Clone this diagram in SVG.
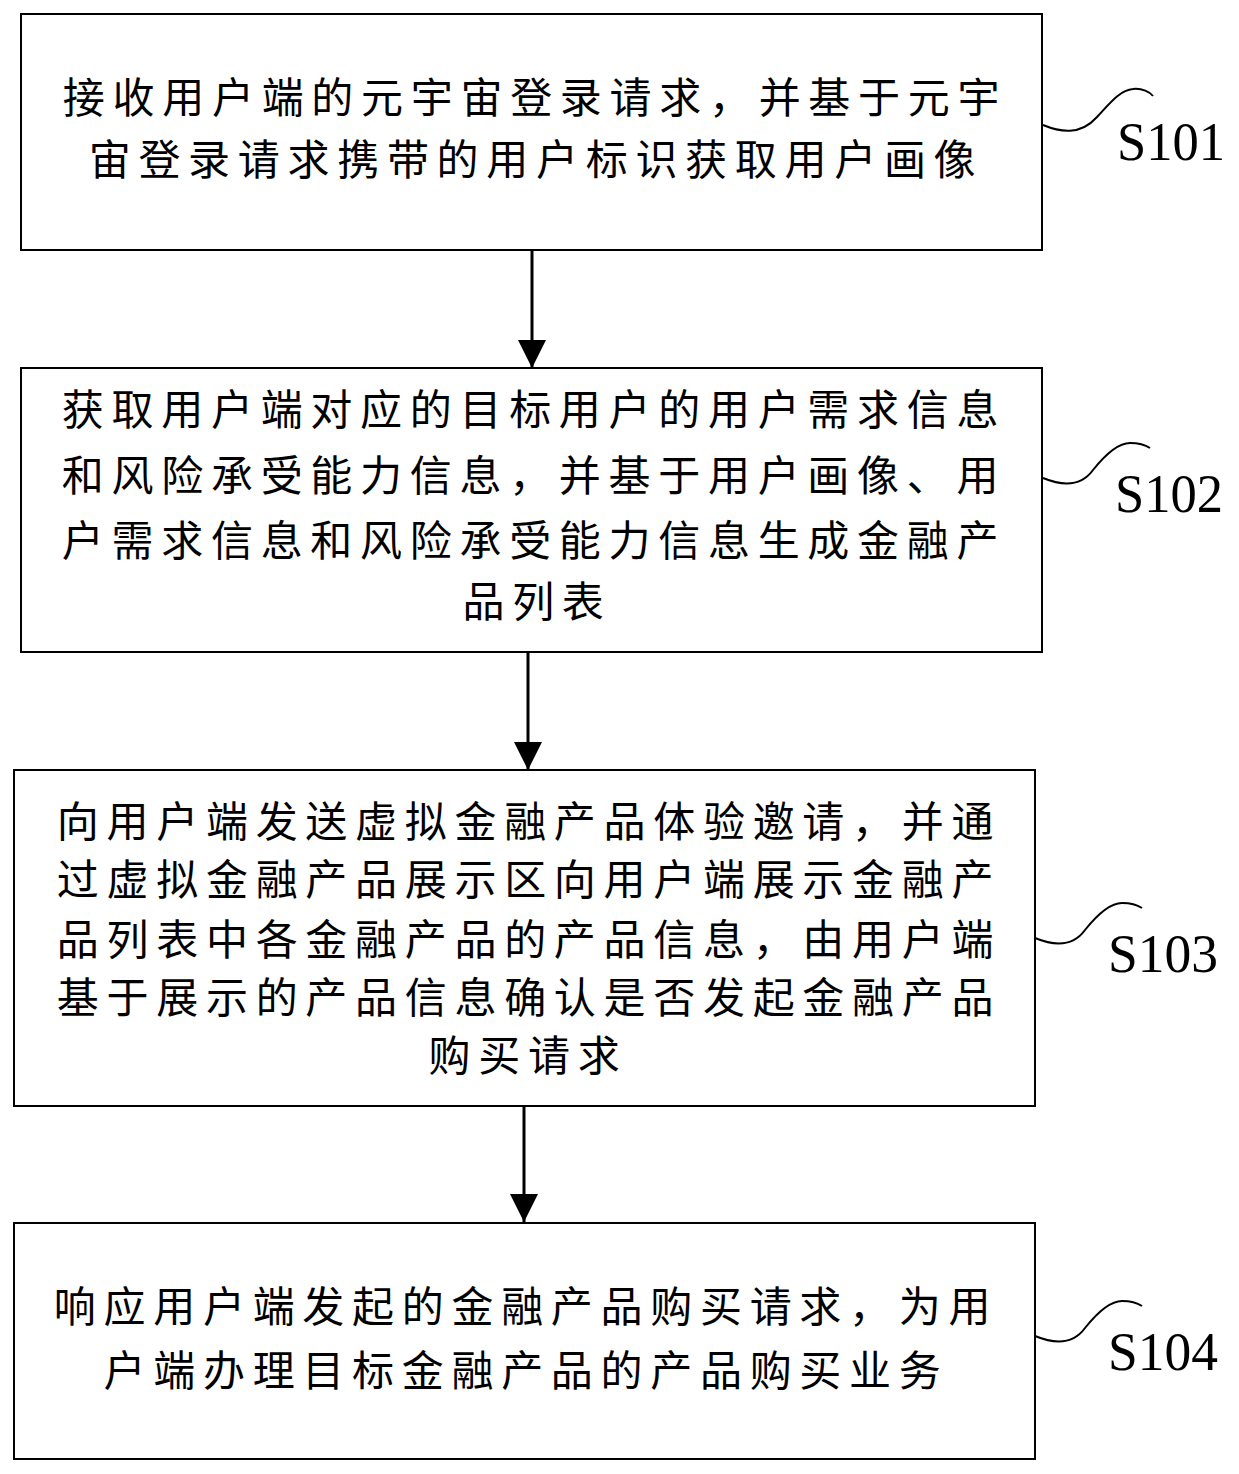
<svg xmlns="http://www.w3.org/2000/svg" width="1239" height="1474" viewBox="0 0 1239 1474">
<defs>
<style>
.box{fill:#fff;stroke:#000;stroke-width:2}
.t{font-family:"Noto Sans CJK SC","Noto Sans",sans-serif;font-size:42px;letter-spacing:7.7px;text-anchor:middle;fill:#000}
.lbl{font-family:"Liberation Serif","Times New Roman",serif;font-size:55px;fill:#000}
.sq{fill:none;stroke:#000;stroke-width:2}
.ln{stroke:#000;stroke-width:3}
</style>
<marker id="ah" markerWidth="28" markerHeight="28" viewBox="0 0 28 28" refX="14" refY="28" orient="auto" markerUnits="userSpaceOnUse">
<path d="M0,0 L28,0 L14,28 Z" fill="#000"/>
</marker>
</defs>
<rect width="1239" height="1474" fill="#fff"/>
<g id="connectors">
<line class="ln" x1="532" y1="250" x2="532" y2="368"/>
<path d="M518,340 L546,340 L532,368 Z" fill="#000"/>
<line class="ln" x1="528" y1="652" x2="528" y2="770"/>
<path d="M514,742 L542,742 L528,770 Z" fill="#000"/>
<line class="ln" x1="524" y1="1106" x2="524" y2="1222"/>
<path d="M510,1194 L538,1194 L524,1222 Z" fill="#000"/>
</g>
<g id="S101">
<rect class="box" x="21" y="14" width="1021" height="236"/>
<text class="t" x="535" y="113">接收用户端的元宇宙登录请求，并基于元宇</text>
<text class="t" x="536" y="175">宙登录请求携带的用户标识获取用户画像</text>
<path class="sq" d="M1043,125 C1060,132 1080,136 1097,117 C1110,103 1120,90 1133,89 C1142,88 1150,92 1153,96"/>
<text class="lbl" x="1117" y="160" textLength="108" lengthAdjust="spacingAndGlyphs">S101</text>
</g>
<g id="S102">
<rect class="box" x="21" y="368" width="1021" height="284"/>
<text class="t" x="534" y="425">获取用户端对应的目标用户的用户需求信息</text>
<text class="t" x="534" y="491">和风险承受能力信息，并基于用户画像、用</text>
<text class="t" x="534" y="556">户需求信息和风险承受能力信息生成金融产</text>
<text class="t" x="537" y="617">品列表</text>
<path class="sq" d="M1043,478 C1060,485 1080,488 1093,470 C1105,455 1118,443 1130,443 C1140,443 1147,446 1150,448"/>
<text class="lbl" x="1115" y="512" textLength="108" lengthAdjust="spacingAndGlyphs">S102</text>
</g>
<g id="S103">
<rect class="box" x="14" y="770" width="1021" height="336"/>
<text class="t" x="529" y="837">向用户端发送虚拟金融产品体验邀请，并通</text>
<text class="t" x="529" y="895">过虚拟金融产品展示区向用户端展示金融产</text>
<text class="t" x="529" y="955">品列表中各金融产品的产品信息，由用户端</text>
<text class="t" x="529" y="1013">基于展示的产品信息确认是否发起金融产品</text>
<text class="t" x="528" y="1071">购买请求</text>
<path class="sq" d="M1035,938 C1052,945 1072,948 1085,930 C1097,915 1110,903 1122,903 C1132,903 1139,906 1142,908"/>
<text class="lbl" x="1108" y="972" textLength="110" lengthAdjust="spacingAndGlyphs">S103</text>
</g>
<g id="S104">
<rect class="box" x="14" y="1223" width="1021" height="236"/>
<text class="t" x="526" y="1322">响应用户端发起的金融产品购买请求，为用</text>
<text class="t" x="526" y="1386">户端办理目标金融产品的产品购买业务</text>
<path class="sq" d="M1035,1336 C1052,1343 1072,1346 1085,1328 C1097,1313 1110,1301 1122,1301 C1132,1301 1139,1304 1142,1306"/>
<text class="lbl" x="1108" y="1370" textLength="110" lengthAdjust="spacingAndGlyphs">S104</text>
</g>
</svg>
